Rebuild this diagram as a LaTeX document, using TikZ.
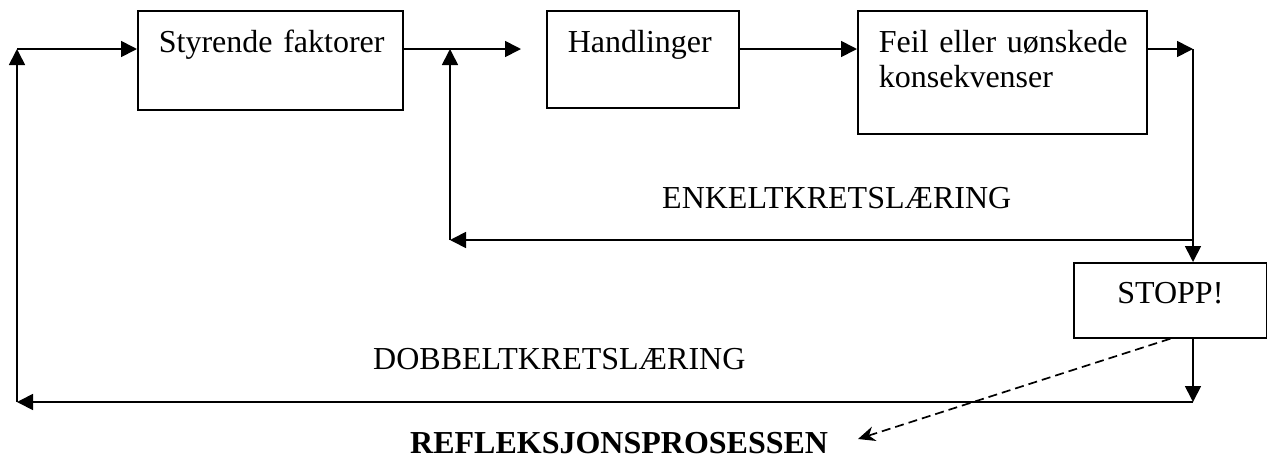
\documentclass[tikz,border=0pt]{standalone}
\usepackage{fontspec}
\setmainfont{Liberation Serif}
\usetikzlibrary{arrows.meta,calc}
\begin{document}
\begin{tikzpicture}[x=1pt,y=-1pt,
  txt/.style={font=\fontsize{32}{35}\selectfont, inner sep=0pt},
  boxnode/.style={draw, line width=1.7pt, font=\fontsize{32}{35}\selectfont,
    inner xsep=21pt, inner ysep=0pt, align=left, anchor=north west},
  conn/.style={line width=1.7pt, -{Triangle[length=16pt,width=16pt]}},
  dashconn/.style={line width=1.7pt, dash pattern=on 9pt off 5pt, -{Stealth[length=17pt,width=15pt]}}]
\useasboundingbox (0,0) rectangle (1267,459);
% boxes
\node[boxnode, text width=223pt, text height=42pt, text depth=57pt] (b1) at (137,10) {\mbox{Styrende faktorer}};
\node[boxnode, text width=150pt, text height=42pt, text depth=55pt] (b2) at (546,10) {\mbox{Handlinger}};
\node[boxnode, text width=247pt, text height=42pt, text depth=81pt] (b3) at (857,10) {\mbox{Feil eller uønskede}\\\mbox{konsekvenser}};
\node[boxnode, align=center, text width=151pt, text height=41pt, text depth=34pt] (stopp) at (1073,262) {\mbox{STOPP!}};
% labels
\node[txt, anchor=base west] (enk) at (662,208) {ENKELTKRETSLÆRING};
\node[txt, anchor=base west] (dob) at (373,369) {DOBBELTKRETSLÆRING};
\node[txt, anchor=base west, font=\fontsize{32}{35}\selectfont\bfseries] (refl) at (410,453) {REFLEKSJONSPROSESSEN};
% coordinates
\coordinate (lt) at (17,49);
\coordinate (lb) at (17,402);
\coordinate (j1) at (450,49);
\coordinate (j1b) at (450,240);
\coordinate (a2) at (521,49);
\coordinate (r1) at (1193,49);
\coordinate (r2) at (1193,240);
\coordinate (rb) at (1193,402);
\coordinate (rtip) at (858,439);
% connectors
\draw[conn] (lt) -- (lt -| b1.west);
\draw[conn] (lb) -- (lt);
\draw[conn] (rb) -- (lb);
\draw[conn] (b1.east |- lt) -- (a2);
\draw[conn] (j1b) -- (j1);
\draw[conn] (b2.east |- lt) -- (b3.west |- lt);
\draw[conn] (b3.east |- r1) -- (r1);
\draw[conn] (r1) -- (r1 |- stopp.north);
\draw[conn] (r2) -- (j1b);
\draw[conn] (r1 |- stopp.south) -- (rb);
\draw[dashconn] (stopp.south) -- (rtip);
\end{tikzpicture}
\end{document}
